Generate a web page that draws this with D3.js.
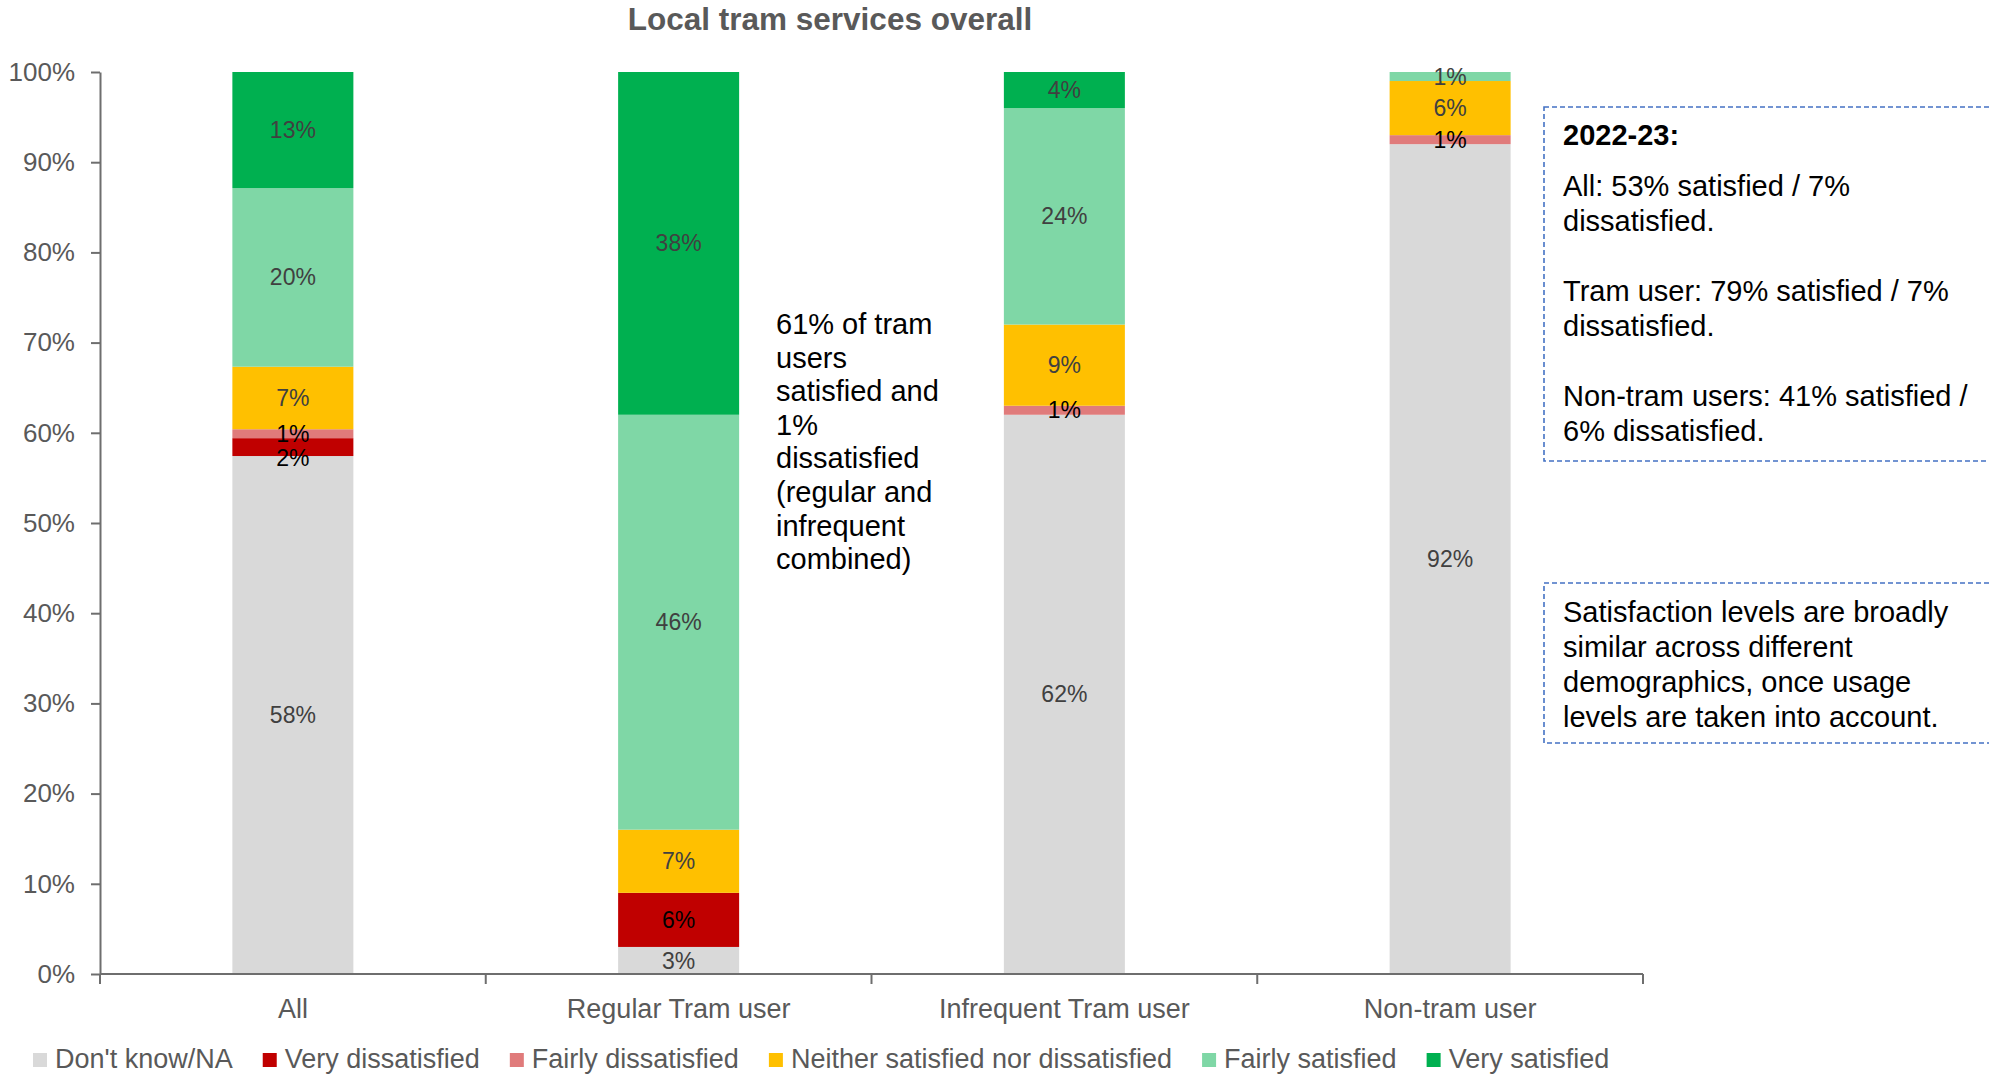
<!DOCTYPE html>
<html>
<head>
<meta charset="utf-8">
<script src="https://cdn.jsdelivr.net/npm/d3@7"></script>
<style>
  html, body { margin: 0; padding: 0; background: #ffffff; }
  svg { display: block; font-family: "Liberation Sans", Arial, Helvetica, sans-serif; }
</style>
</head>
<body>
<svg id="chart" width="1989" height="1074"></svg>
<script>
// Satisfaction with local tram services, by tram usage (percent of respondents)
const categories = ["All", "Regular Tram user", "Infrequent Tram user", "Non-tram user"];
const seriesNames = ["Don't know/NA", "Very dissatisfied", "Fairly dissatisfied",
  "Neither satisfied nor dissatisfied", "Fairly satisfied", "Very satisfied"];
const seriesColors = ["#D9D9D9", "#C00000", "#E07B7B", "#FFC000", "#7FD7A6", "#00B050"];

const dontKnow           = [58, 3, 62, 92];
const veryDissatisfied   = [2, 6, 0, 0];
const fairlyDissatisfied = [1, 0, 1, 1];
const neither            = [7, 7, 9, 6];
const fairlySatisfied    = [20, 46, 24, 1];
const verySatisfied      = [13, 38, 4, 0];

const yTickValues = [0, 0.1, 0.2, 0.3, 0.4, 0.5, 0.6, 0.7, 0.8, 0.9, 1.0];

const chartTitle = "Local tram services overall";
const noteTramUsers = ["61% of tram", "users", "satisfied and", "1%", "dissatisfied",
  "(regular and", "infrequent", "combined)"];
const summaryHeading = "2022-23:";
const summaryLines = [
  ["All: 53% satisfied / 7%", "dissatisfied."],
  ["Tram user: 79% satisfied / 7%", "dissatisfied."],
  ["Non-tram users: 41% satisfied /", "6% dissatisfied."]
];
const demographicsNote = ["Satisfaction levels are broadly", "similar across different",
  "demographics, once usage", "levels are taken into account."];

const seriesValues = [dontKnow, veryDissatisfied, fairlyDissatisfied, neither, fairlySatisfied, verySatisfied];
const rows = categories.map((c, i) => {
  const r = { category: c };
  seriesNames.forEach((s, k) => { r[s] = seriesValues[k][i]; });
  return r;
});

const svg = d3.select("#chart");
const axisColor = "#6E6E6E";
const textGray = "#595959";

const plot = { left: 100, right: 1643, top: 72, bottom: 974 };

const x = d3.scaleBand()
  .domain(categories)
  .range([plot.left, plot.right])
  .paddingInner(0.6863)
  .paddingOuter(0.6863 / 2);

const y = d3.scaleLinear().domain([0, 1]).range([plot.bottom, plot.top]);

const color = d3.scaleOrdinal().domain(seriesNames).range(seriesColors);

const stacked = d3.stack()
  .keys(seriesNames)
  .offset(d3.stackOffsetExpand)(rows);

// Title
svg.append("text")
  .attr("x", 830).attr("y", 30)
  .attr("text-anchor", "middle")
  .attr("font-size", 31.5).attr("font-weight", "bold")
  .attr("fill", textGray)
  .text(chartTitle);

// Bars
const layers = svg.append("g").selectAll("g")
  .data(stacked)
  .join("g")
  .attr("fill", d => color(d.key));

layers.selectAll("rect")
  .data(d => d.map(p => ({ p, key: d.key })))
  .join("rect")
  .attr("x", d => x(d.p.data.category))
  .attr("width", x.bandwidth())
  .attr("y", d => y(d.p[1]))
  .attr("height", d => Math.max(0, y(d.p[0]) - y(d.p[1])));

// Data labels, nudged apart where small segments sit next to each other
const labels = [];
stacked.forEach(layer => {
  layer.forEach(p => {
    const v = p.data[layer.key];
    if (v > 0) {
      labels.push({
        category: p.data.category,
        key: layer.key,
        value: v,
        y: y((p[0] + p[1]) / 2)
      });
    }
  });
});
const minGap = 24;
categories.forEach(c => {
  const col = labels.filter(l => l.category === c).sort((a, b) => a.y - b.y);
  for (let i = 1; i < col.length; i++) {
    if (col[i].y < col[i - 1].y + minGap) col[i].y = col[i - 1].y + minGap;
  }
});
const darkKeys = ["Very dissatisfied", "Fairly dissatisfied"];
svg.append("g").selectAll("text")
  .data(labels)
  .join("text")
  .attr("x", d => x(d.category) + x.bandwidth() / 2)
  .attr("y", d => d.y)
  .attr("dy", "0.35em")
  .attr("text-anchor", "middle")
  .attr("font-size", 23)
  .attr("fill", d => darkKeys.includes(d.key) ? "#000000" : "#404040")
  .text(d => d.value + "%");

// Y axis
const yAxis = svg.append("g")
  .attr("transform", `translate(${plot.left},0)`)
  .call(d3.axisLeft(y).tickValues(yTickValues).tickFormat(d3.format(".0%")).tickSize(9).tickSizeOuter(0).tickPadding(16));
yAxis.select(".domain").attr("stroke", axisColor).attr("stroke-width", 2);
yAxis.selectAll(".tick line").attr("stroke", axisColor).attr("stroke-width", 2);
yAxis.selectAll(".tick text").attr("fill", textGray).attr("font-size", 26)
  .attr("font-family", "\"Liberation Sans\", Arial, sans-serif");

// X axis: line with ticks on category boundaries
const xAxis = svg.append("g")
  .attr("transform", `translate(0,${plot.bottom})`)
  .call(d3.axisBottom(x).tickSize(0).tickPadding(25));
xAxis.select(".domain").attr("stroke", axisColor).attr("stroke-width", 2)
  .attr("d", `M${plot.left},0H${plot.right}`);
xAxis.selectAll(".tick text").attr("fill", textGray).attr("font-size", 27)
  .attr("font-family", "\"Liberation Sans\", Arial, sans-serif");
const boundaries = categories.map(c => x(c) - x.step() * x.paddingInner() / 2)
  .concat([plot.right]);
boundaries[0] = plot.left;
xAxis.append("g").selectAll("line")
  .data(boundaries)
  .join("line")
  .attr("x1", d => d).attr("x2", d => d)
  .attr("y1", 0).attr("y2", 10)
  .attr("stroke", axisColor).attr("stroke-width", 2);

// Legend
const legend = svg.append("g").attr("transform", "translate(33,0)");
let lx = 0;
seriesNames.forEach((name, i) => {
  const g = legend.append("g").attr("transform", `translate(${lx},0)`);
  g.append("rect")
    .attr("x", 0).attr("y", 1053)
    .attr("width", 14).attr("height", 14)
    .attr("fill", color(name));
  const t = g.append("text")
    .attr("x", 22).attr("y", 1068)
    .attr("font-size", 27).attr("fill", textGray)
    .text(name);
  lx += 22 + t.node().getComputedTextLength() + 30;
});

// Annotation beside the regular-user bar
const note = svg.append("text")
  .attr("font-size", 29).attr("fill", "#000000");
noteTramUsers.forEach((line, i) => {
  note.append("tspan").attr("x", 776).attr("y", 334 + i * 33.6).text(line);
});

// Dashed summary boxes on the right
function dashedBox(y0, y1) {
  svg.append("rect")
    .attr("x", 1544).attr("y", y0)
    .attr("width", 520).attr("height", y1 - y0)
    .attr("fill", "none")
    .attr("stroke", "#4472C4").attr("stroke-width", 1.6)
    .attr("stroke-dasharray", "5,3");
}
dashedBox(107, 461);
dashedBox(583, 743);

svg.append("text")
  .attr("x", 1563).attr("y", 145)
  .attr("font-size", 29).attr("font-weight", "bold").attr("fill", "#000000")
  .text(summaryHeading);
const summary = svg.append("text").attr("font-size", 29).attr("fill", "#000000");
summaryLines.forEach((para, pi) => {
  para.forEach((line, li) => {
    summary.append("tspan")
      .attr("x", 1563)
      .attr("y", 196 + pi * 105 + li * 35.3)
      .text(line);
  });
});

const demo = svg.append("text").attr("font-size", 29).attr("fill", "#000000");
demographicsNote.forEach((line, i) => {
  demo.append("tspan").attr("x", 1563).attr("y", 622 + i * 35).text(line);
});
</script>
</body>
</html>
